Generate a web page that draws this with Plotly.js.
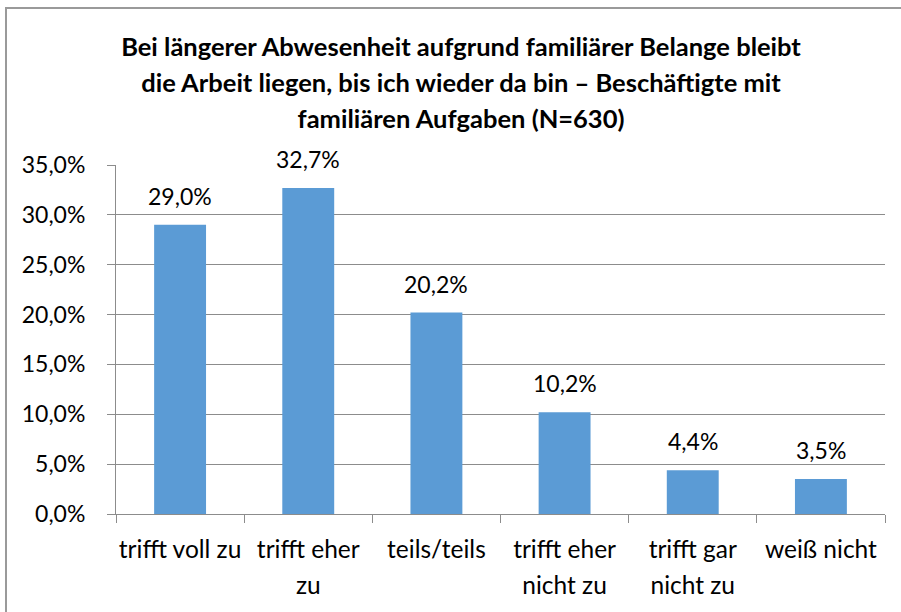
<!DOCTYPE html>
<html>
<head>
<meta charset="utf-8">
<script src="https://cdn.plot.ly/plotly-3.0.1.min.js"></script>
<style>
html,body{margin:0;padding:0;background:#fff;}
#wrap{position:relative;width:901px;height:612px;overflow:hidden;}
#chart{position:absolute;left:0;top:0;width:901px;height:612px;}
#frame{position:absolute;left:5px;top:7px;width:920px;height:640px;border-top:2px solid #9a9a9a;border-left:2px solid #9a9a9a;pointer-events:none;}
</style>
</head>
<body>
<div id="wrap"><div id="chart"></div><div id="frame"></div></div>
<script>
const categories = ["trifft voll zu", "trifft eher<br>zu", "teils/teils", "trifft eher<br>nicht zu", "trifft gar<br>nicht zu", "weiß nicht"];
const values = [29.0, 32.7, 20.2, 10.2, 4.4, 3.5];
const valueLabels = ["29,0%", "32,7%", "20,2%", "10,2%", "4,4%", "3,5%"];
const yTickVals = [0, 5, 10, 15, 20, 25, 30, 35];
const yTickText = ["0,0%", "5,0%", "10,0%", "15,0%", "20,0%", "25,0%", "30,0%", "35,0%"];
const titleLines = [
  "Bei längerer Abwesenheit aufgrund familiärer Belange bleibt",
  "die Arbeit liegen, bis ich wieder da bin – Beschäftigte mit",
  "familiären Aufgaben (N=630)"
];

const FONT = "Lato, 'Open Sans', sans-serif";
const wrapSize = (t, px) => t.split("<br>").map(s => '<span style="font-size:' + px + 'px">' + s + '</span>').join("<br>");

const trace = {
  type: "bar",
  x: categories,
  y: values,
  marker: {color: "#5B9BD5"},
  hoverinfo: "skip"
};

const annotations = categories.map((c, i) => ({
  x: c, y: values[i], xref: "x", yref: "y",
  text: valueLabels[i], showarrow: false,
  yanchor: "bottom", yshift: 13,
  font: {family: FONT, size: 23, color: "#000"}
}));

const layout = {
  width: 901, height: 612,
  paper_bgcolor: "#fff", plot_bgcolor: "#fff",
  margin: {l: 116, r: 16, t: 165, b: 98, pad: 0},
  showlegend: false,
  bargap: 0.595,
  font: {family: FONT, color: "#000"},
  title: {
    text: titleLines.map(t => wrapSize(t, 25.5)).join("<br>"),
    font: {family: FONT, size: 27.8, color: "#000", weight: "bold"},
    x: 461/901, xanchor: "center", xref: "container",
    y: 1 - 56/612, yanchor: "top", yref: "container"
  },
  xaxis: {
    type: "category",
    tickmode: "array",
    tickvals: categories,
    ticktext: categories.map(t => wrapSize(t, 24.5)),
    tickangle: 0,
    showgrid: false,
    showline: true, linecolor: "#8c8c8c", linewidth: 1,
    ticks: "outside", tickson: "boundaries", ticklen: 8, tickcolor: "#8c8c8c",
    tickfont: {family: FONT, size: 27, color: "#000"},
    ticklabelstandoff: 11,
    fixedrange: true
  },
  yaxis: {
    range: [0, 35],
    tickvals: yTickVals, ticktext: yTickText,
    showgrid: true, gridcolor: "#8c8c8c", gridwidth: 1,
    showline: true, linecolor: "#8c8c8c", linewidth: 1,
    zeroline: false,
    ticks: "outside", ticklen: 8, tickcolor: "#8c8c8c",
    tickfont: {family: FONT, size: 23, color: "#000"},
    ticklabelstandoff: 17,
    fixedrange: true
  },
  annotations: annotations
};

Plotly.newPlot("chart", [trace], layout, {staticPlot: true, displayModeBar: false});
</script>
</body>
</html>
